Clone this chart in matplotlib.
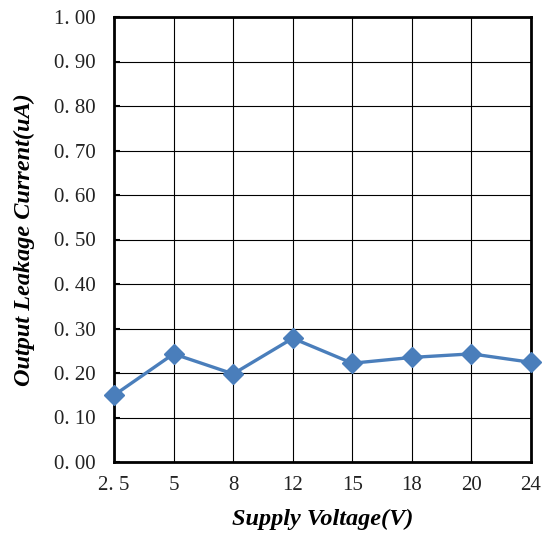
import matplotlib
matplotlib.use("Agg")
import matplotlib.pyplot as plt

categories = ["2.5", "5", "8", "12", "15", "18", "20", "24"]
tick_labels = ["2. 5", "5", "8", "12", "15", "18", "20", "24"]
leakage = [0.15, 0.243, 0.198, 0.278, 0.222, 0.235, 0.243, 0.224]
y_ticks = [0.0, 0.1, 0.2, 0.3, 0.4, 0.5, 0.6, 0.7, 0.8, 0.9, 1.0]
y_tick_labels = ["0. 00", "0. 10", "0. 20", "0. 30", "0. 40", "0. 50",
                 "0. 60", "0. 70", "0. 80", "0. 90", "1. 00"]

fig = plt.figure(figsize=(5.43, 5.34), dpi=100)
ax = fig.add_axes([114/543, 72/534, (531-114)/543, (462-17)/534])

x = list(range(len(categories)))
ax.plot(x, leakage, color="#4a7ebb", lw=2.4, marker="D", markersize=10,
        markerfacecolor="#4a7ebb", markeredgecolor="#4a7ebb", zorder=3, clip_on=False)

ax.set_xlim(0, len(categories) - 1)
ax.set_ylim(0, 1.0)
ax.set_xticks(x)
ax.set_xticklabels(tick_labels)
ax.set_yticks(y_ticks)
ax.set_yticklabels(y_tick_labels)
ax.grid(True, color="black", lw=0.8)
ax.set_axisbelow(True)

for s in ax.spines.values():
    s.set_linewidth(2.0)
    s.set_color("black")

ax.tick_params(axis="y", direction="in", length=4, width=1.5, pad=13)
ax.tick_params(axis="x", length=0, pad=10)
for lab in ax.get_xticklabels() + ax.get_yticklabels():
    lab.set_fontfamily("Liberation Serif")
    lab.set_fontsize(15)
    lab.set_color("#222222")

ax.set_xlabel("Supply Voltage(V)", fontfamily="Liberation Serif", fontsize=17.5,
              fontweight="bold", fontstyle="italic", labelpad=10)
ax.set_ylabel("Output Leakage Current(uA)", fontfamily="Liberation Serif", fontsize=17.5,
              fontweight="bold", fontstyle="italic", labelpad=14)

fig.savefig("out.png", dpi=100)
